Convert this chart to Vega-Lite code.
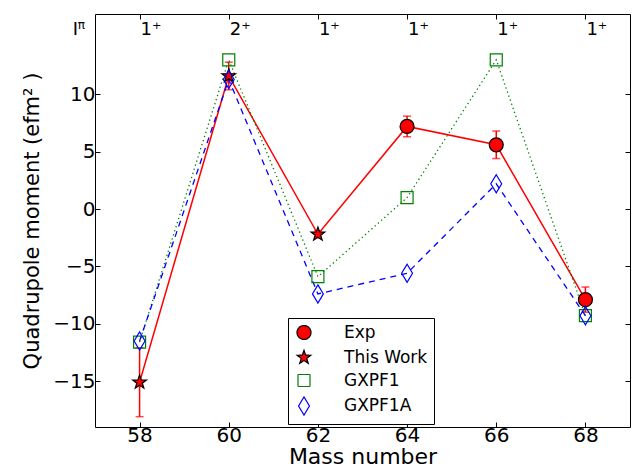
{
  "$schema": "https://vega.github.io/schema/vega-lite/v6.json",
  "width": 535,
  "height": 413,
  "autosize": {"type": "none"},
  "padding": {"left": 95, "top": 14, "right": 2, "bottom": 47},
  "config": {
    "font": "DejaVu Sans",
    "view": {"stroke": "#000000", "strokeWidth": 1},
    "axis": {"grid": false, "domain": false, "tickColor": "#000000", "labelColor": "#000000", "titleColor": "#000000", "titleFontWeight": "normal"}
  },
  "datasets": {
    "q": [
      {"series": "Exp", "mass": 64, "q": 7.2, "lo": 6.3, "hi": 8.1},
      {"series": "Exp", "mass": 66, "q": 5.6, "lo": 4.4, "hi": 6.8},
      {"series": "Exp", "mass": 68, "q": -7.9, "lo": -9.0, "hi": -6.8},
      {"series": "This Work", "mass": 58, "q": -15.1, "lo": -18.1, "hi": -12.1},
      {"series": "This Work", "mass": 60, "q": 11.6, "lo": 10.4, "hi": 12.8},
      {"series": "This Work", "mass": 62, "q": -2.2, "lo": -2.5, "hi": -1.9},
      {"series": "GXPF1", "mass": 58, "q": -11.6},
      {"series": "GXPF1", "mass": 60, "q": 13.0},
      {"series": "GXPF1", "mass": 62, "q": -5.9},
      {"series": "GXPF1", "mass": 64, "q": 1.0},
      {"series": "GXPF1", "mass": 66, "q": 13.0},
      {"series": "GXPF1", "mass": 68, "q": -9.3},
      {"series": "GXPF1A", "mass": 58, "q": -11.5},
      {"series": "GXPF1A", "mass": 60, "q": 11.3},
      {"series": "GXPF1A", "mass": 62, "q": -7.4},
      {"series": "GXPF1A", "mass": 64, "q": -5.6},
      {"series": "GXPF1A", "mass": 66, "q": 2.2},
      {"series": "GXPF1A", "mass": 68, "q": -9.3}
    ],
    "spin": [
      {"mass": 58, "label": "1⁺"},
      {"mass": 60, "label": "2⁺"},
      {"mass": 62, "label": "1⁺"},
      {"mass": 64, "label": "1⁺"},
      {"mass": 66, "label": "1⁺"},
      {"mass": 68, "label": "1⁺"}
    ],
    "corner": [{"mass": 56.5, "label": "I", "sup": "π"}]
  },
  "resolve": {"axis": {"x": "independent", "y": "independent"}},
  "layer": [
    {
      "data": {"name": "q"},
      "mark": {"type": "rule", "color": "#ff0000", "strokeWidth": 1.5},
      "encoding": {
        "x": {"field": "mass", "type": "quantitative", "scale": {"domain": [57, 69], "nice": false, "zero": false},
          "axis": {"orient": "bottom", "values": [58, 60, 62, 64, 66, 68], "format": "d", "tickSize": -5, "labelPadding": 3, "labelFontSize": 20, "title": "Mass number", "titleFontSize": 22, "titlePadding": 1}},
        "y": {"field": "lo", "type": "quantitative", "scale": {"domain": [-19, 17], "nice": false, "zero": false},
          "axis": {"orient": "left", "values": [-15, -10, -5, 0, 5, 10], "format": "d", "tickSize": -5, "labelPadding": 5, "labelFontSize": 20, "title": "Quadrupole moment (efm² )", "titleFontSize": 21, "titlePadding": 10}},
        "y2": {"field": "hi"}
      }
    },
    {
      "data": {"name": "q"},
      "mark": {"type": "tick", "orient": "horizontal", "color": "#ff0000", "size": 8, "thickness": 1.5},
      "encoding": {
        "x": {"field": "mass", "type": "quantitative", "axis": null},
        "y": {"field": "lo", "type": "quantitative", "axis": null}
      }
    },
    {
      "data": {"name": "q"},
      "mark": {"type": "tick", "orient": "horizontal", "color": "#ff0000", "size": 8, "thickness": 1.5},
      "encoding": {
        "x": {"field": "mass", "type": "quantitative", "axis": null},
        "y": {"field": "hi", "type": "quantitative", "axis": null}
      }
    },
    {
      "data": {"name": "q"},
      "transform": [{"filter": "datum.series === 'Exp' || datum.series === 'This Work'"}],
      "mark": {"type": "line", "color": "#ff0000", "strokeWidth": 1.5},
      "encoding": {
        "x": {"field": "mass", "type": "quantitative", "sort": "ascending",
          "axis": {"orient": "top", "values": [58, 60, 62, 64, 66, 68], "labels": false, "tickSize": -5, "title": null}},
        "y": {"field": "q", "type": "quantitative",
          "axis": {"orient": "right", "values": [-15, -10, -5, 0, 5, 10], "labels": false, "tickSize": -5, "title": null}}
      }
    },
    {
      "data": {"name": "q"},
      "transform": [{"filter": "datum.series === 'GXPF1'"}],
      "mark": {"type": "line", "color": "#008000", "strokeWidth": 1.3, "strokeDash": [1.3, 3]},
      "encoding": {
        "x": {"field": "mass", "type": "quantitative", "axis": null},
        "y": {"field": "q", "type": "quantitative", "axis": null}
      }
    },
    {
      "data": {"name": "q"},
      "transform": [{"filter": "datum.series === 'GXPF1A'"}],
      "mark": {"type": "line", "color": "#0000ff", "strokeWidth": 1.3, "strokeDash": [6, 5]},
      "encoding": {
        "x": {"field": "mass", "type": "quantitative", "axis": null},
        "y": {"field": "q", "type": "quantitative", "axis": null}
      }
    },
    {
      "data": {"name": "q"},
      "mark": {"type": "line", "opacity": 0},
      "encoding": {
        "x": {"field": "mass", "type": "quantitative", "axis": null},
        "y": {"field": "q", "type": "quantitative", "axis": null},
        "strokeDash": {"field": "series", "type": "nominal",
          "scale": {"domain": ["Exp", "This Work", "GXPF1", "GXPF1A"], "range": [[1, 0], [1, 0], [1, 0], [1, 0]]},
          "legend": {
            "orient": "none", "legendX": 193, "legendY": 304, "title": null,
            "strokeColor": "#000000", "fillColor": "#ffffff", "padding": 6, "cornerRadius": 0,
            "labelFontSize": 17, "labelColor": "#000000", "labelOffset": 30, "rowPadding": 5,
            "symbolSize": 400, "symbolStrokeWidth": 1.2}}
      }
    },
    {
      "data": {"name": "q"},
      "mark": {"type": "point", "strokeWidth": 1.2, "opacity": 1},
      "encoding": {
        "x": {"field": "mass", "type": "quantitative", "axis": null},
        "y": {"field": "q", "type": "quantitative", "axis": null},
        "shape": {"field": "series", "type": "nominal", "legend": null,
          "scale": {"domain": ["Exp", "This Work", "GXPF1", "GXPF1A"],
            "range": ["circle", "M0,-1L0.235,-0.324L0.951,-0.309L0.38,0.124L0.588,0.809L0,0.4L-0.588,0.809L-0.38,0.124L-0.951,-0.309L-0.235,-0.324Z", "square", "M0,-1L0.6,0L0,1L-0.6,0Z"]}},
        "fill": {"field": "series", "type": "nominal", "legend": null,
          "scale": {"domain": ["Exp", "This Work", "GXPF1", "GXPF1A"], "range": ["#ff0000", "#ff0000", "transparent", "transparent"]}},
        "stroke": {"field": "series", "type": "nominal", "legend": null,
          "scale": {"domain": ["Exp", "This Work", "GXPF1", "GXPF1A"], "range": ["#000000", "#000000", "#008000", "#0000ff"]}},
        "size": {"field": "series", "type": "nominal", "legend": null,
          "scale": {"type": "ordinal", "domain": ["Exp", "This Work", "GXPF1", "GXPF1A"], "range": [196, 210, 144, 330]}}
      }
    },
    {
      "data": {"name": "spin"},
      "mark": {"type": "text", "align": "left", "baseline": "middle", "fontSize": 18, "dx": 1, "color": "#000000"},
      "encoding": {
        "x": {"field": "mass", "type": "quantitative", "axis": null},
        "y": {"datum": 15.6, "type": "quantitative", "axis": null},
        "text": {"field": "label"}
      }
    },
    {
      "data": {"name": "corner"},
      "mark": {"type": "text", "align": "left", "baseline": "middle", "fontSize": 18, "color": "#000000"},
      "encoding": {
        "x": {"field": "mass", "type": "quantitative", "axis": null},
        "y": {"datum": 15.6, "type": "quantitative", "axis": null},
        "text": {"field": "label"}
      }
    },
    {
      "data": {"name": "corner"},
      "mark": {"type": "text", "align": "left", "baseline": "middle", "fontSize": 12, "dx": 5, "dy": -5, "color": "#000000"},
      "encoding": {
        "x": {"field": "mass", "type": "quantitative", "axis": null},
        "y": {"datum": 15.6, "type": "quantitative", "axis": null},
        "text": {"field": "sup"}
      }
    }
  ]
}
